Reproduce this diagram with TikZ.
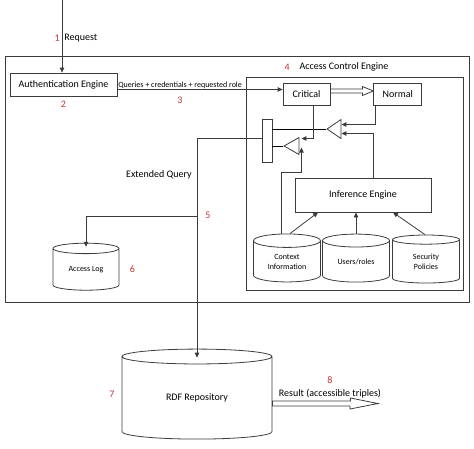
\documentclass[tikz,border=0pt]{standalone}
\usepackage{fontspec}
\setmainfont{Carlito}
\usepackage{tikz}
\usetikzlibrary{positioning, arrows.meta, calc}
\usetikzlibrary{shapes,shapes.geometric}

\definecolor{numred}{RGB}{192,52,52}
\definecolor{linegray}{RGB}{60,60,60}

\tikzset{
	box/.style={draw=linegray, rectangle, inner sep=0pt, font=\fontsize{10}{12}\selectfont},
	db/.style={draw=linegray, cylinder, shape border rotate=90, inner sep=0pt, align=center, font=\fontsize{8}{10}\selectfont},
	gate/.style={draw=linegray, isosceles triangle, isosceles triangle stretches, shape border rotate=180, inner sep=0pt},
	num/.style={text=numred, inner sep=0pt, font=\fontsize{10}{12}\selectfont},
	lbl/.style={inner sep=0pt, font=\fontsize{10}{12}\selectfont},
	arr/.style={draw=linegray, -{Triangle[length=5pt,width=4.5pt]}},
	hollow/.style={draw=linegray, fill=white}
}

\begin{document}
\begin{tikzpicture}[x=1pt, y=-1pt, line width=0.8pt, node distance=6pt]
		\useasboundingbox (0,0) rectangle (474,448);
		
		% frames
		\node[box, minimum width=464, minimum height=246] (sys) at (237,179) {};
		\node[box, minimum width=217, minimum height=213] (ace) at (354.5,183.5) {};
		\node[lbl] (acelbl) at (344,67) {Access Control Engine};
		\node[num, left=9pt of acelbl] (n4) {4};
		
		% request + authentication
		\coordinate (req) at (62,0);
		\node[box, minimum width=107, minimum height=23] (auth) at (63.5,84.5) {Authentication Engine};
		\node[lbl, anchor=west] (reqlbl) at (64,38) {Request};
		\node[num, left=4pt of reqlbl] (n1) {1};
		\node[num, below=4pt of auth] (n2) {2};
		\draw[arr] (req) -- (req |- auth.north);
		
		% critical / normal
		\node[box, minimum width=47, minimum height=22] (crit) at (306.5,94) {Critical};
		\node[box, minimum width=48, minimum height=22, right=43pt of crit] (norm) {Normal};
		\coordinate (q) at ($(auth.east)+(0,5)$);
		\draw[arr] (q) -- (q -| crit.west)
			node[pos=0, anchor=south west, inner sep=0.5pt, font=\fontsize{8}{10}\selectfont] {Queries + credentials + requested role};
		\node[num] (n3) at (180,100) {3};
		\draw[hollow] ($(crit.east)+(0,-5)$) -- ++(32,0) -- ++(0,-2.5) -- ($(norm.west)+(0,-3)$)
			-- ++(-11,4.5) -- ++(0,-2.5) -- ($(crit.east)+(0,-1)$) -- cycle;
		
		% combiner
		\node[box, minimum width=10, minimum height=43] (bar) at (267,140.5) {};
		\node[gate, minimum width=19, minimum height=14, anchor=apex] (g1) at (326,129) {};
		\node[gate, minimum width=17, minimum height=15, anchor=apex] (g2) at (283,146) {};
		\draw (g1.apex) -- (g1.apex -| bar.east);
		\draw (g2.apex) -- (g2.apex -| bar.east);
		
		% inference
		\node[box, minimum width=136, minimum height=34] (inf) at (363,195) {Inference Engine};
		\node[db, aspect=0.35, minimum width=67, minimum height=48] (ctx) at (287,261.5) {Context\\Information};
		\node[db, aspect=0.35, minimum width=67, minimum height=48] (usr) at (356,261.5) {Users/roles};
		\node[db, aspect=0.35, minimum width=67, minimum height=48] (sec) at (426,261.5) {Security\\Policies};
		
		\draw[arr] ([xshift=3pt]ctx.north) -- ([xshift=-45pt]inf.south);
		\draw[arr] (usr.north) -- (usr.north |- inf.south);
		\draw[arr] ([xshift=-1pt]sec.north) -- ([xshift=30pt]inf.south);
		
		\draw[arr] ([xshift=2pt]norm.south west) |- ($(g1.east)+(0,-4.5)$);
		\draw[arr] ([xshift=10pt]inf.north) |- ($(g1.east)+(0,4.5)$);
		\draw[arr] ([xshift=6.5pt]crit.south) |- ($(g2.east)+(2,-7.5)$);
		\draw[arr] ([xshift=-6pt]ctx.north) -- ++(0,-61) -| ($(g2.east)+(2,1.5)$);
		
		% extended query
		\node[db, aspect=0.3, minimum width=66, minimum height=47] (alog) at (86,269.5) {Access Log};
		\node[num, right=10pt of alog] (n6) {6};
		\node[db, aspect=0.24, minimum width=150, minimum height=90, font=\fontsize{10}{12}\selectfont] (rdf) at (197,398) {RDF Repository};
		\node[num] (n7) at (112,394) {7};
		\node[lbl, anchor=east] (eq) at (192,175) {Extended Query};
		\coordinate (split) at (197,216);
		\node[num] (n5) at (208,215) {5};
		\draw[arr, shorten >=-9pt] ($(bar.west)+(0,-2.5)$) -| (rdf.north);
		\draw[arr, shorten >=-4pt] (split) -| (alog.north);
		
		% result
		\coordinate (out) at (378,403.5);
		\draw[hollow] ($(rdf.east)+(0,3)$) -- ++(78,0) -- ++(0,-3) -- (out)
			-- ++(-28,5.5) -- ++(0,-3) -- ($(rdf.east)+(0,8)$) -- cycle;
		\node[lbl] (res) at (330,394) {Result (accessible triples)};
		\node[num, above=5pt of res] (n8) {8};
	\end{tikzpicture}
\end{document}
